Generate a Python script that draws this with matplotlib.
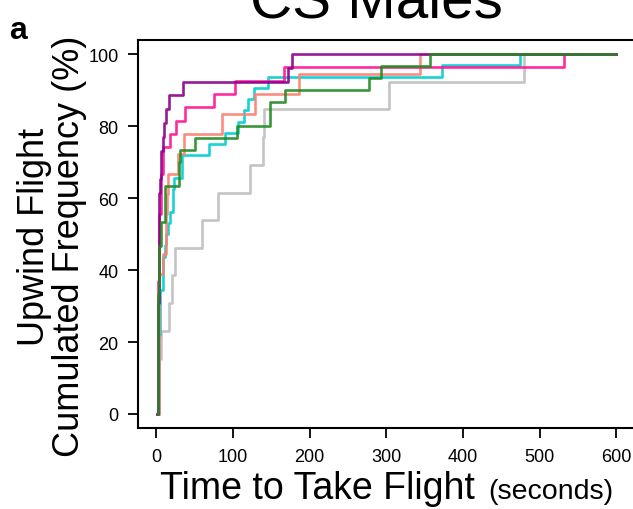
import matplotlib
matplotlib.use("Agg")
import matplotlib.pyplot as plt

plt.rcParams['font.family'] = ['Liberation Sans', 'DejaVu Sans']

# ---- data (time in seconds, cumulated frequency in %) ----
grey_t = [1.5, 3, 6, 16, 21, 24.5, 60, 81, 122, 139, 141, 304, 480, 600]
grey_p = [0, 15.4, 23.1, 30.8, 38.5, 46.2, 53.8, 61.5, 69.2, 76.9, 84.6, 92.3, 100, 100]

cyan_t = [2, 3, 5, 8, 11, 12, 15, 18, 22, 22.3, 22.6, 33, 33.5, 68, 90, 106, 114, 120, 128, 146, 373, 475, 600]
cyan_p = [0, 21.9, 34.4, 43.75, 46.9, 50, 53.1, 56.25, 59.4, 62.5, 65.6, 68.75, 71.9, 75, 78.1, 81.25, 84.4, 87.5, 90.6, 93.75, 96.9, 100, 100]

salmon_t = [1.5, 3, 8, 12, 13, 14, 15.5, 28, 36, 86, 129, 186, 344, 600]
salmon_p = [0, 38.9, 44.4, 50, 55.6, 61.1, 66.7, 72.2, 77.8, 83.3, 88.9, 94.4, 100, 100]

pink_t = [1, 2, 4, 6, 8, 17.5, 25, 37, 75, 102, 166, 532, 600]
pink_p = [0, 37, 55.6, 66.7, 74.1, 77.8, 81.5, 85.2, 88.9, 92.6, 96.3, 100, 100]

purple_t = [1, 2, 3, 4, 5, 6, 8, 10, 13, 16, 35, 172, 177, 600]
purple_p = [0, 30.8, 50, 61.5, 65.4, 73.1, 76.9, 80.8, 84.6, 88.5, 92.3, 96.2, 100, 100]

green_t = [1.5, 2.5, 4, 6, 11.5, 30, 31, 51, 105, 148, 168, 278, 293, 357, 600]
green_p = [0, 33.3, 46.7, 53.3, 63.3, 70, 73.3, 76.7, 80, 86.7, 90, 93.3, 96.7, 100, 100]

series = [
    (grey_t, grey_p, "#BEBEBE"),
    (cyan_t, cyan_p, "#00CED1"),
    (salmon_t, salmon_p, "#FA8072"),
    (pink_t, pink_p, "#FF1493"),
    (purple_t, purple_p, "#8B008B"),
    (green_t, green_p, "#228B22"),
]

xticks = [0, 100, 200, 300, 400, 500, 600]
yticks = [0, 20, 40, 60, 80, 100]

W, H = 633, 510
fig = plt.figure(figsize=(W / 100, H / 100), dpi=100)
left, right, top, bottom = 138, 634.6, 40.6, 429.4
ax = fig.add_axes([left / W, (H - bottom) / H, (right - left) / W, (bottom - top) / H])

for t, p, c in series:
    ax.step(t, p, where='post', color=c, lw=1.9, alpha=0.9)

ax.set_xlim(-24, 624)
ax.set_ylim(-4, 104)
ax.set_xticks(xticks)
ax.set_yticks(yticks)
ax.tick_params(axis='both', length=7, width=1.3, labelsize=13, direction='out')
ax.tick_params(axis='y', pad=7)
ax.tick_params(axis='x', pad=7)
for s in ax.spines.values():
    s.set_linewidth(1.5)

fig.text(376 / W, (H - 18) / H, "CS Males", fontsize=42, ha='center', va='baseline')
fig.text(9 / W, (H - 39) / H, "a", fontsize=23, fontweight='bold', va='baseline')
fig.text(35 / W, (H - 237) / H, "Upwind Flight", rotation=90, ha='center', va='center', fontsize=26)
fig.text(70 / W, (H - 246) / H, "Cumulated Frequency (%)", rotation=90, ha='center', va='center', fontsize=26)
fig.text(160 / W, (H - 499) / H, "Time to Take Flight", fontsize=27, ha='left', va='baseline')
fig.text(488 / W, (H - 499) / H, "(seconds)", fontsize=20.5, ha='left', va='baseline')

fig.savefig("out.png", dpi=100)
